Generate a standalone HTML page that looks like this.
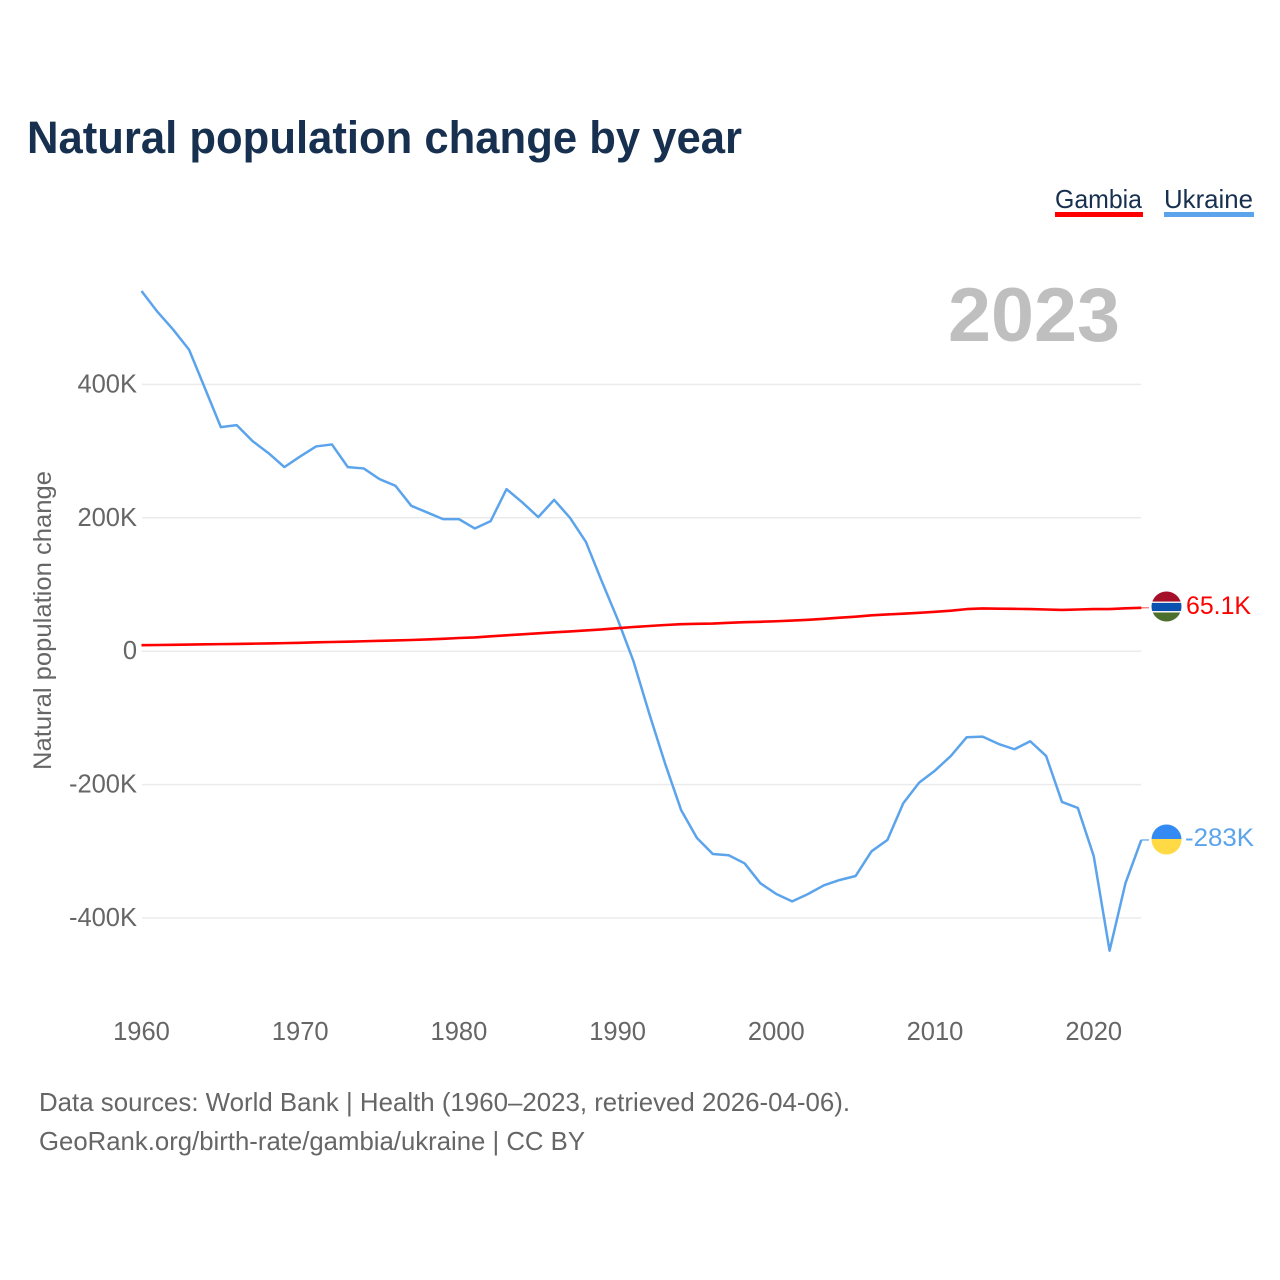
<!DOCTYPE html>
<html lang="en">
<head>
<meta charset="utf-8">
<title>Natural population change by year</title>
<style>
html,body{margin:0;padding:0;background:#fff;}
svg{display:block;font-family:"Liberation Sans",Arial,sans-serif;}
</style>
</head>
<body>
<svg id="chart" width="1280" height="1280" viewBox="0 0 1280 1280" xmlns="http://www.w3.org/2000/svg">
  <defs>
    <clipPath id="clip-gambia"><circle id="clip-gambia-circle" cx="1166.5" cy="606.5" r="15"></circle></clipPath>
    <clipPath id="clip-ukraine"><circle id="clip-ukraine-circle" cx="1166.5" cy="839.5" r="15"></circle></clipPath>
  </defs>
  <rect x="0" y="0" width="1280" height="1280" fill="#ffffff"></rect>
  <text x="27" y="153" font-size="45" font-weight="700" fill="#17304f" textLength="715" lengthAdjust="spacingAndGlyphs">Natural population change by year</text>

  <g>
    <g>
      <text x="1055" y="208" font-size="26" fill="#17304f" textLength="87" lengthAdjust="spacingAndGlyphs">Gambia</text>
      <rect x="1055" y="212" width="88" height="5" fill="#ff0000"></rect>
    </g>
    <g>
      <text x="1164" y="208" font-size="26" fill="#17304f" textLength="89" lengthAdjust="spacingAndGlyphs">Ukraine</text>
      <rect x="1164" y="212" width="90" height="5" fill="#5ba4ec"></rect>
    </g>
  </g>

  <text x="948" y="341" font-size="76" font-weight="700" fill="#bfbfbf" textLength="172" lengthAdjust="spacingAndGlyphs">2023</text>
  <text transform="translate(51,770) rotate(-90)" x="0" y="0" font-size="25" fill="#666666" textLength="299" lengthAdjust="spacingAndGlyphs">Natural population change</text>

  <g id="grid"></g>
  <g id="y-ticks"></g>
  <g id="x-ticks"></g>
  <g id="series"></g>

  <g id="flag-gambia" clip-path="url(#clip-gambia)">
    <rect x="1150" y="590" width="34" height="11.5" fill="#a50f2a"></rect>
    <rect x="1150" y="601.5" width="34" height="10" fill="#e8e8e8"></rect>
    <rect x="1150" y="603" width="34" height="8" fill="#0b52b0"></rect>
    <rect x="1150" y="612.5" width="34" height="12" fill="#4d6f2e"></rect>
  </g>
  <g id="flag-ukraine" clip-path="url(#clip-ukraine)">
    <rect x="1150" y="822" width="34" height="17" fill="#338af3"></rect>
    <rect x="1150" y="839" width="34" height="18" fill="#ffda44"></rect>
  </g>
  <text id="value-gambia" x="1186" y="614" font-size="25" fill="#ff0000" textLength="65" lengthAdjust="spacingAndGlyphs"></text>
  <text id="value-ukraine" x="1185" y="846" font-size="25" fill="#5ba4ec" textLength="69" lengthAdjust="spacingAndGlyphs"></text>

  <g>
    <text x="39" y="1111" font-size="26" fill="#666666" textLength="811" lengthAdjust="spacingAndGlyphs">Data sources: World Bank | Health (1960–2023, retrieved 2026-04-06).</text>
    <text x="39" y="1150" font-size="26" fill="#666666" textLength="546" lengthAdjust="spacingAndGlyphs">GeoRank.org/birth-rate/gambia/ukraine | CC BY</text>
  </g>
</svg>
<script>
const firstYear = 1960;
const ukraineValues = [540,509,482,452,394,336,339,315,297,276,292,307,310,276,274,258,248,218,208,198,198,184,195,243,223,201,227,200,164,105,48,-15,-94,-169,-238,-280,-304,-306,-318,-348,-364,-375,-364,-351,-343,-337,-300,-283,-228,-197,-179,-157,-129,-128,-139,-147,-135,-157,-226,-235,-307,-449,-348,-283];
const gambiaValues = [9,9.3,9.6,10,10.3,10.6,10.9,11.3,11.7,12.1,12.6,13.3,13.8,14.3,14.9,15.5,16.1,16.8,17.6,18.6,19.8,20.6,22.3,23.8,25.3,26.8,28.3,29.6,31.1,32.6,34.5,36.3,37.8,39.3,40.5,41.1,41.5,42.5,43.5,44.1,44.9,45.9,47.1,48.6,50.3,51.8,53.8,55.1,56.3,57.5,59.1,60.8,63.1,64.1,63.8,63.5,63.1,62.5,61.8,62.5,63.1,63.1,64.3,65.1];
const yTickValues = [400,200,0,-200,-400];
const yTickLabels = ['400K','200K','0','-200K','-400K'];
const xTickValues = [1960,1970,1980,1990,2000,2010,2020];
const ukraineLatestLabel = '-283K';
const gambiaLatestLabel = '65.1K';

const NS = 'http://www.w3.org/2000/svg';
function xScale(year) { return 141.5 + (year - 1960) * 15.87; }
function yScale(value) { return 651.2 - value * 0.667; }
function make(tag, parent, attrs) {
  const el = document.createElementNS(NS, tag);
  Object.keys(attrs).forEach(function (k) { el.setAttribute(k, attrs[k]); });
  parent.appendChild(el);
  return el;
}
const grid = document.getElementById('grid');
const yTicks = document.getElementById('y-ticks');
const xTicks = document.getElementById('x-ticks');
const seriesGroup = document.getElementById('series');

yTickValues.forEach(function (v, i) {
  const line = make('line', grid, {x1: 142, x2: 1141, y1: yScale(v), y2: yScale(v), stroke: '#ebebeb', 'stroke-width': 1.5});
  
  
  const label = make('text', yTicks, {x: 137, y: yScale(v) + 8, 'text-anchor': 'end', 'font-size': 25.5, fill: '#666666'});
  
  
  label.textContent = yTickLabels[i];
});
xTickValues.forEach(function (year) {
  const label = make('text', xTicks, {x: xScale(year), y: 1040, 'text-anchor': 'middle', 'font-size': 25.5, fill: '#666666'});
  
  
  label.textContent = String(year);
});
function toPoints(values) {
  return values.map(function (v, i) {
    return xScale(firstYear + i).toFixed(2) + ',' + yScale(v).toFixed(2);
  }).join(' ');
}
function lastPoint(values) {
  return {x: xScale(firstYear + values.length - 1), y: yScale(values[values.length - 1])};
}
const ukraineEnd = lastPoint(ukraineValues);
const gambiaEnd = lastPoint(gambiaValues);

const ukraineLeader = make('line', seriesGroup, {x1: ukraineEnd.x, x2: 1149, y1: ukraineEnd.y, y2: ukraineEnd.y, stroke: '#5ba4ec', 'stroke-width': 1.2});


const gambiaLeader = make('line', seriesGroup, {x1: gambiaEnd.x, x2: 1149, y1: gambiaEnd.y, y2: gambiaEnd.y, stroke: '#ff0000', 'stroke-width': 1.2, 'stroke-opacity': 0.6});



const ukraineLine = make('polyline', seriesGroup, {points: toPoints(ukraineValues), fill: 'none', stroke: '#5ba4ec', 'stroke-width': 2.5, 'stroke-linejoin': 'round'});


const gambiaLine = make('polyline', seriesGroup, {points: toPoints(gambiaValues), fill: 'none', stroke: '#ff0000', 'stroke-width': 2.6, 'stroke-linejoin': 'round'});



document.getElementById('value-gambia').textContent = gambiaLatestLabel;
document.getElementById('value-ukraine').textContent = ukraineLatestLabel;
</script>
</body>
</html>
